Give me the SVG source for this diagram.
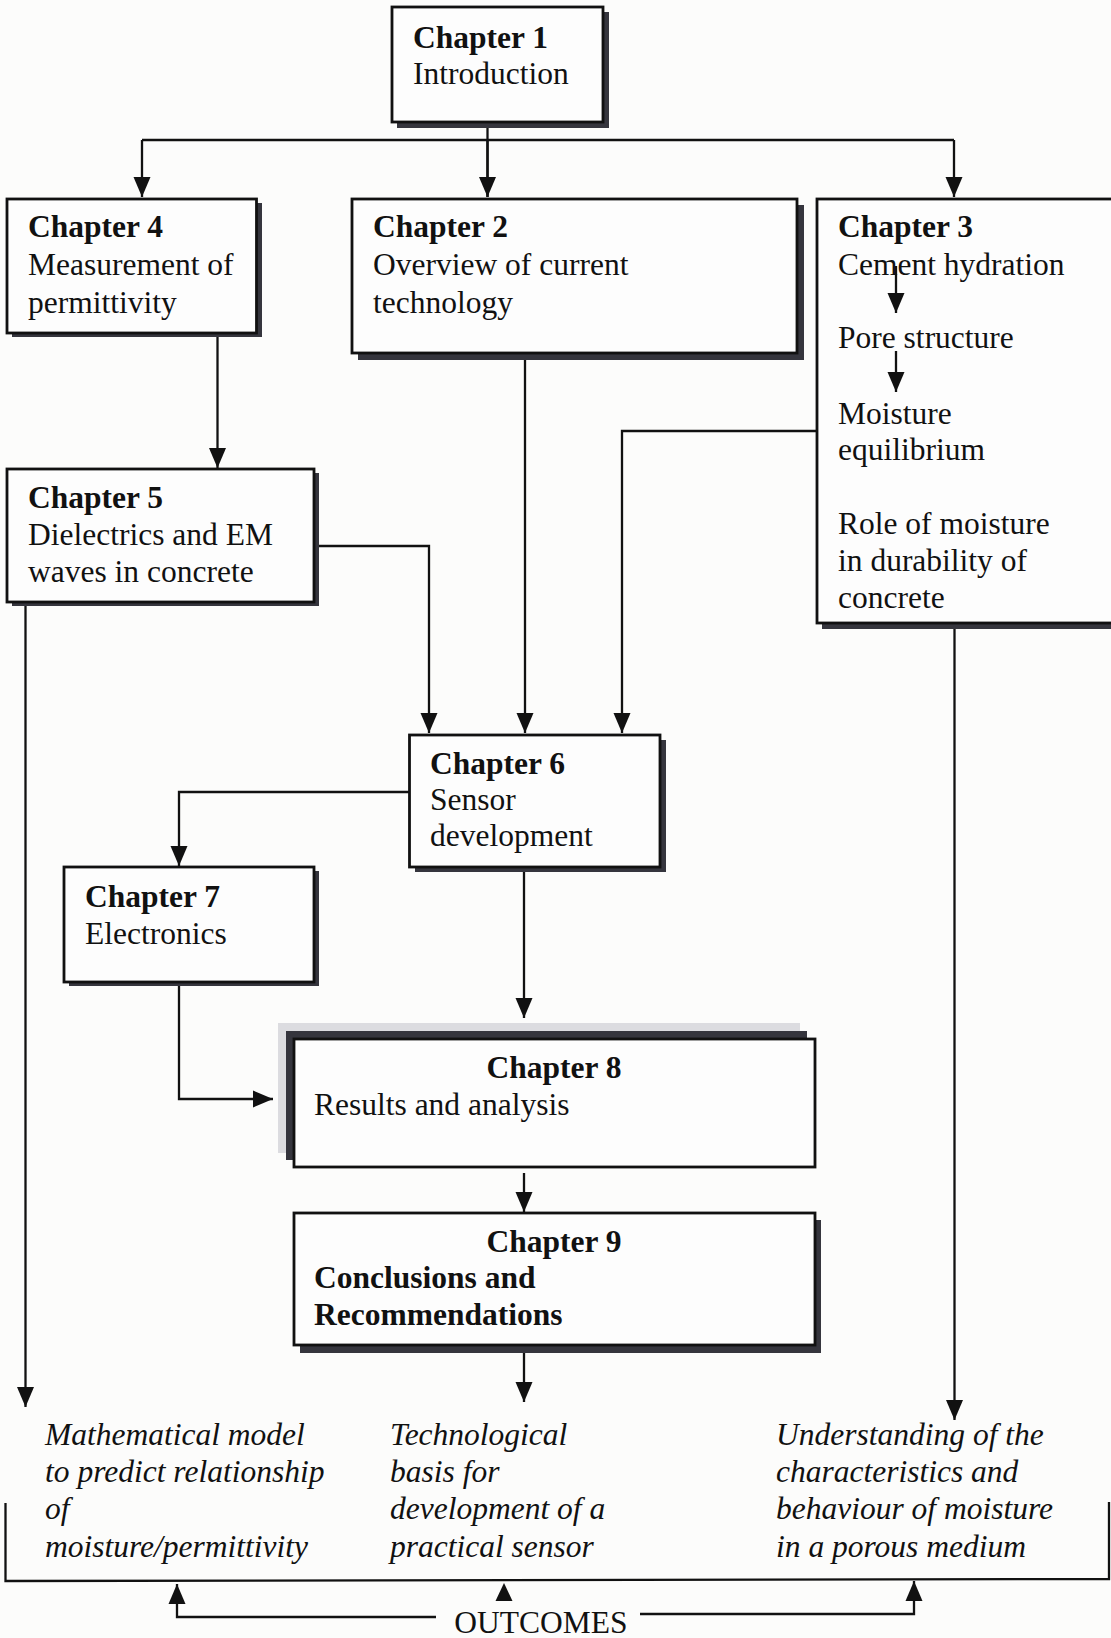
<svg xmlns="http://www.w3.org/2000/svg" width="1111" height="1638" viewBox="0 0 1111 1638">
<style>
  text { font-family: "Liberation Serif", "Times New Roman", serif; font-size: 31.5px; fill: #111; }
  .b { font-weight: bold; }
  .i { font-style: italic; }
  .c { text-anchor: middle; }
  .box { fill: #fdfdfd; stroke: #111; stroke-width: 2.8; }
  .sh { fill: #35353d; }
  .halo { fill: #dcdce0; }
  .ln { fill: none; stroke: #111; stroke-width: 2.3; }
</style>
<defs>
  <marker id="ah" viewBox="0 0 20 18" markerWidth="20" markerHeight="18" refX="20" refY="9" orient="auto" markerUnits="userSpaceOnUse">
    <path d="M0,0.5 L20,9 L0,17.5 z" fill="#111"/>
  </marker>
</defs>
<rect x="0" y="0" width="1111" height="1638" fill="#fcfcfb"/>

<g id="connectors">
  <path class="ln" d="M487.5,122 V197"/>
  <path class="ln" d="M142,140 H954" stroke-width="2.8"/>
  <path class="ln" d="M142,140 V197" marker-end="url(#ah)"/>
  <path class="ln" d="M487.5,140 V197" marker-end="url(#ah)"/>
  <path class="ln" d="M954,140 V197" marker-end="url(#ah)"/>
  <path class="ln" d="M217.5,333 V468" marker-end="url(#ah)"/>
  <path class="ln" d="M314,546 H429 V733" marker-end="url(#ah)"/>
  <path class="ln" d="M525,358 V733" marker-end="url(#ah)"/>
  <path class="ln" d="M817,431 H622 V733" marker-end="url(#ah)"/>
  <path class="ln" d="M409.5,792 H179 V866" marker-end="url(#ah)"/>
  <path class="ln" d="M524,870 V1018" marker-end="url(#ah)"/>
  <path class="ln" d="M179,985 V1099 H273" marker-end="url(#ah)"/>
  <path class="ln" d="M524,1173 V1212" marker-end="url(#ah)"/>
  <path class="ln" d="M524,1352 V1402" marker-end="url(#ah)"/>
  <path class="ln" d="M25.5,605 V1407" marker-end="url(#ah)"/>
  <path class="ln" d="M954.5,627 V1420" marker-end="url(#ah)"/>
  <path class="ln" d="M5.5,1503 V1581 L1109,1579 V1502" stroke-width="2.6"/>
  <path class="ln" d="M436,1617 H177 V1584" marker-end="url(#ah)"/>
  <path class="ln" d="M640,1614 H914 V1581" marker-end="url(#ah)"/>
  <path d="M495.5,1601 L504,1583 L512.5,1601 z" fill="#111"/>
</g>

<g id="ch1">
  <rect class="sh" x="397" y="12" width="212" height="116"/>
  <rect class="box" x="392" y="7" width="211" height="115"/>
  <text class="b" x="413" y="48">Chapter 1</text>
  <text x="413" y="84">Introduction</text>
</g>

<g id="ch4">
  <rect class="sh" x="12" y="203" width="250" height="134"/>
  <rect class="box" x="7" y="199" width="249.5" height="134"/>
  <text class="b" x="28" y="237">Chapter 4</text>
  <text x="28" y="275">Measurement of</text>
  <text x="28" y="313">permittivity</text>
</g>

<g id="ch2">
  <rect class="sh" x="358" y="205" width="446" height="155"/>
  <rect class="box" x="352" y="199" width="445" height="154"/>
  <text class="b" x="373" y="237">Chapter 2</text>
  <text x="373" y="275">Overview of current</text>
  <text x="373" y="313">technology</text>
</g>

<g id="ch3">
  <rect class="sh" x="822" y="204" width="300" height="425"/>
  <rect class="box" x="817" y="199" width="300" height="424"/>
  <text class="b" x="838" y="237">Chapter 3</text>
  <text x="838" y="275">Cement hydration</text>
  <text x="838" y="348">Pore structure</text>
  <text x="838" y="424">Moisture</text>
  <text x="838" y="460">equilibrium</text>
  <text x="838" y="534">Role of moisture</text>
  <text x="838" y="571">in durability of</text>
  <text x="838" y="608">concrete</text>
  <path class="ln" d="M896,266 V313" marker-end="url(#ah)"/>
  <path class="ln" d="M896,351 V392" marker-end="url(#ah)"/>
</g>

<g id="ch5">
  <rect class="sh" x="12" y="473" width="307" height="133"/>
  <rect class="box" x="7" y="469" width="307" height="133"/>
  <text class="b" x="28" y="508">Chapter 5</text>
  <text x="28" y="545">Dielectrics and EM</text>
  <text x="28" y="582">waves in concrete</text>
</g>

<g id="ch6">
  <rect class="sh" x="415" y="740" width="251" height="132"/>
  <rect class="box" x="409.5" y="735" width="250.5" height="132"/>
  <text class="b" x="430" y="774">Chapter 6</text>
  <text x="430" y="810">Sensor</text>
  <text x="430" y="846">development</text>
</g>

<g id="ch7">
  <rect class="sh" x="69" y="871" width="250" height="115"/>
  <rect class="box" x="64" y="867" width="250" height="115"/>
  <text class="b" x="85" y="907">Chapter 7</text>
  <text x="85" y="944">Electronics</text>
</g>

<g id="ch8">
  <rect class="halo" x="278" y="1023" width="522" height="130"/>
  <rect class="sh" x="286" y="1031" width="521" height="129"/>
  <rect class="box" x="294" y="1039" width="521" height="128"/>
  <text class="b c" x="554" y="1078">Chapter 8</text>
  <text x="314" y="1115">Results and analysis</text>
</g>

<g id="ch9">
  <rect class="sh" x="300" y="1220" width="521" height="133"/>
  <rect class="box" x="294" y="1213" width="521" height="132"/>
  <text class="b c" x="554" y="1252">Chapter 9</text>
  <text class="b" x="314" y="1288">Conclusions and</text>
  <text class="b" x="314" y="1325">Recommendations</text>
</g>

<g id="outcome-model">
  <text class="i" x="45" y="1445">Mathematical model</text>
  <text class="i" x="45" y="1482">to predict relationship</text>
  <text class="i" x="45" y="1519">of</text>
  <text class="i" x="45" y="1557">moisture/permittivity</text>
</g>

<g id="outcome-sensor">
  <text class="i" x="390" y="1445">Technological</text>
  <text class="i" x="390" y="1482">basis for</text>
  <text class="i" x="390" y="1519">development of a</text>
  <text class="i" x="390" y="1557">practical sensor</text>
</g>

<g id="outcome-moisture">
  <text class="i" x="776" y="1445">Understanding of the</text>
  <text class="i" x="776" y="1482">characteristics and</text>
  <text class="i" x="776" y="1519">behaviour of moisture</text>
  <text class="i" x="776" y="1557">in a porous medium</text>
</g>

<g id="outcomes-label">
  <text class="c" x="541" y="1633" font-size="29">OUTCOMES</text>
</g>
</svg>
